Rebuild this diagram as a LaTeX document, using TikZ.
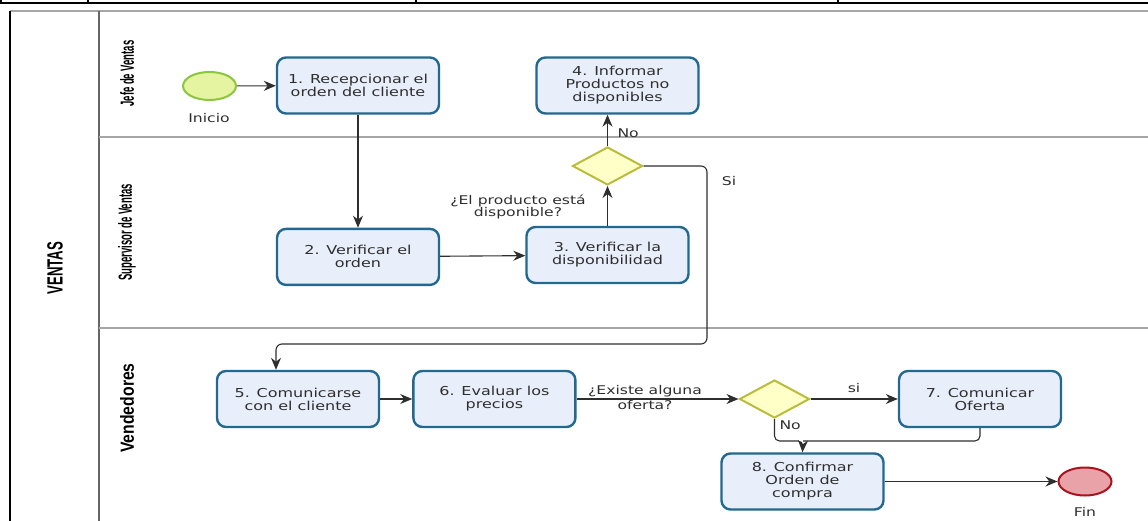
\documentclass[tikz,border=0pt]{standalone}
\usepackage{fontspec}
\setmainfont{DejaVu Sans}[FakeStretch=1.3]
\newfontfamily\poolfont{Liberation Sans}[FakeStretch=0.6]
\newfontfamily\lanefont{Liberation Sans}[FakeStretch=0.5]
\newfontfamily\lanefontancha{Liberation Sans}[FakeStretch=0.83]
\usetikzlibrary{positioning,arrows.meta,shapes.geometric}

\definecolor{boxfill}{HTML}{E8EEFA}
\definecolor{boxline}{HTML}{22688F}
\definecolor{rombfill}{HTML}{FFFFC8}
\definecolor{rombline}{HTML}{BABC3C}
\definecolor{inifill}{HTML}{E4F4A0}
\definecolor{iniline}{HTML}{8CC63E}
\definecolor{finfill}{HTML}{E9A3A8}
\definecolor{finline}{HTML}{A8141E}
\definecolor{lanegray}{HTML}{A6A6A6}
\definecolor{txtgray}{HTML}{2E2E2E}

\begin{document}
\begin{tikzpicture}[x=1pt,y=-1pt,
        node distance=32pt,
        tarea/.style={rectangle,draw=boxline,fill=boxfill,line width=2.4pt,rounded corners=9pt,align=center,minimum width=162pt,minimum height=56pt,font=\fontsize{12.3}{13}\selectfont,text=txtgray},
        decision/.style={diamond,draw=rombline,fill=rombfill,line width=2pt,minimum width=70pt,minimum height=38pt,inner sep=0pt},
        evento/.style={ellipse,line width=2pt,minimum width=53pt,minimum height=28pt,inner sep=0pt},
        lbl/.style={font=\fontsize{12}{12.5}\selectfont,text=txtgray,align=center},
        lanelbl/.style={rotate=90,font=\lanefont\bfseries\fontsize{19}{20}\selectfont},
        lane/.style={draw=lanegray,line width=2.2pt},
        flow/.style={-{Stealth[length=12pt,width=10pt]},line width=1.1pt,draw=txtgray}]
    \useasboundingbox (0,0) rectangle (1148,521);
    % franja superior
    \draw[line width=2pt] (0,3) -- (1148,3);
    \foreach \xx in {1,88,416,838} \draw[line width=1.5pt] (\xx,0) -- (\xx,3);
    % pool y carriles
    \draw[lane] (10,11) -- (1150,11);
    \draw[line width=1.6pt] (10,11) -- (10,525);
    \draw[draw=gray!80!black,line width=1.6pt] (99,11) -- (99,525);
    \draw[lane] (99,137) -- (1150,137);
    \draw[lane] (99,328) -- (1150,328);
    \node[rotate=90,font=\poolfont\bfseries\fontsize{22}{24}\selectfont] (pool) at (55,268) {VENTAS};
    \node[lanelbl] (jefe) at (127,73.5) {Jefe de Ventas};
    \node[lanelbl] (super) at (127,232.5) {Supervisor de Ventas};
    \node[lanelbl,font=\lanefontancha\bfseries\fontsize{19}{20}\selectfont] (vend) at (127,408) {Vendedores};

    % nodos
    \node[evento,draw=iniline,fill=inifill] (inicio) at (209.5,86) {};
    \node[lbl] (inicioTxt) at (209,118) {Inicio};
    \node[tarea] (t1) at (358,85.5) {1. Recepcionar el\\orden del cliente};
    \node[tarea] (t4) at (617.5,85.5) {4. Informar\\Productos no\\disponibles};
    \node[tarea,below=113pt of t1] (t2) {2. Verificar el\\orden};
    \node[tarea] (t3) at (607.5,255) {3. Verificar la\\disponibilidad};
    \node[decision] (g1) at (607.5,166) {};
    \node[tarea] (t5) at (298,399) {5. Comunicarse\\con el cliente};
    \node[tarea,right=of t5] (t6) {6. Evaluar los\\precios};
    \node[decision] (g2) at (774.5,399) {};
    \node[tarea] (t7) at (980,399) {7. Comunicar\\Oferta};
    \node[tarea] (t8) at (802.5,481.5) {8. Confirmar\\Orden de\\compra};
    \node[evento,draw=finline,fill=finfill] (fin) at (1085,481.5) {};
    \node[lbl] (finTxt) at (1085,512) {Fin};
    \coordinate (siVuelta) at (707,344);
    \coordinate (union) at (803,441);

    % conectores
    \draw[flow] (inicio) -- (t1);
    \draw[flow] (t1) -- (t2);
    \draw[flow] (t2) -- (t3);
    \draw[flow] (t3) -- (g1);
    \node[lbl] (pregunta1) at (518,207) {¿El producto está\\disponible?};
    \draw[flow] (g1.north) -- (g1.north |- t4.south);
    \node[lbl,anchor=west] (no1) at (614,133) {No};
    \draw[flow,rounded corners=6pt] (g1.east) -| (siVuelta) -| ([xshift=-22pt]t5.north);
    \node[lbl] (si1) at (729,181) {Si};
    \draw[flow] (t5) -- (t6);
    \draw[flow] (t6) -- (g2);
    \node[lbl,font=\fontsize{12}{15}\selectfont] (pregunta2) at (645,398) {¿Existe alguna\\oferta?};
    \draw[flow] (g2) -- (t7);
    \node[lbl] (si2) at (854,388) {si};
    \draw[line width=1.1pt,draw=txtgray,rounded corners=5pt] (t7.south) |- (union);
    \draw[flow,rounded corners=5pt] (g2.south) |- (union) -- (t8.north);
    \node[lbl,anchor=west] (no2) at (776,425) {No};
    \draw[flow] (t8) -- (fin);
\end{tikzpicture}
\end{document}
